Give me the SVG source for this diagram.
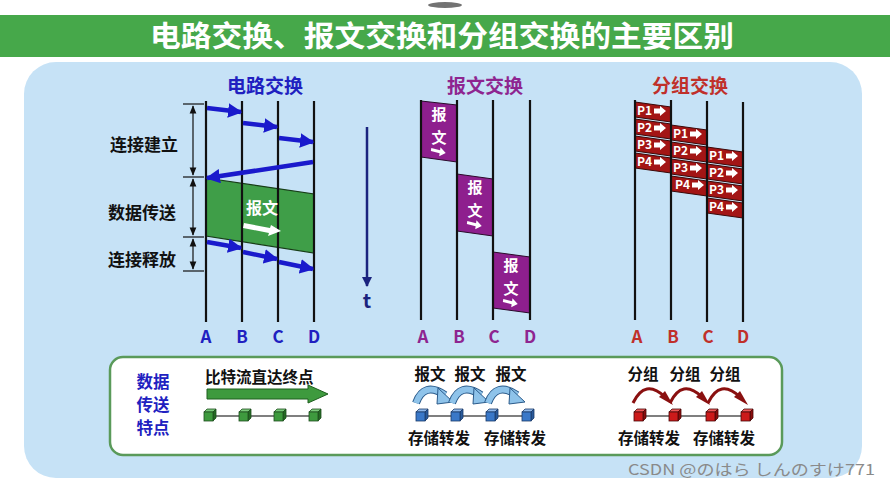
<svg xmlns="http://www.w3.org/2000/svg" xmlns:xlink="http://www.w3.org/1999/xlink" width="890" height="488" viewBox="0 0 890 488">
<style>
text{font-family:"Noto Sans CJK SC","Liberation Sans",sans-serif;font-weight:bold}
.title{fill:#fff;font-size:29px}
.lane{stroke:#111;stroke-width:2.2}
.blue{fill:#2020c0}
.purple{fill:#8e2590}
.red{fill:#c0302a}
.lbl{font-size:17px;text-anchor:middle}
.side{font-size:17px;fill:#111;text-anchor:middle}
.barr{stroke:#1a1acc;stroke-width:4.5;fill:none}
.tick{stroke:#111;stroke-width:1.2}
.msg{fill:#8e1f8e;stroke:#2a0a2a;stroke-width:1}
.pkt{fill:#a31515;stroke:#3a0808;stroke-width:1}
.ptxt{fill:#fff;font-size:12px;font-family:"Liberation Sans",sans-serif}
.wtxt{fill:#fff;font-size:16px;text-anchor:middle}
.vtxt{fill:#fff;font-size:15px;text-anchor:middle}
.btxt{fill:#111;font-size:15.5px}
.conn{stroke:#555;stroke-width:1.5}
</style>
<defs>
<marker id="bh" viewBox="0 0 10 10" refX="9" refY="5" markerWidth="3.2" markerHeight="3.2" orient="auto"><path d="M0,0 L10,5 L0,10 z" fill="#1a1acc"/></marker>
<marker id="kh" viewBox="0 0 10 10" refX="9" refY="5" markerWidth="7" markerHeight="7" orient="auto-start-reverse"><path d="M0,1 L10,5 L0,9 z" fill="#111"/></marker>
<marker id="th" viewBox="0 0 10 10" refX="9" refY="5" markerWidth="4" markerHeight="4" orient="auto"><path d="M0,0 L10,5 L0,10 z" fill="#1a237e"/></marker>
<g id="gcube"><polygon points="0,3 3,0 12,0 9,3" fill="#7ccc7c" stroke="#1e4e1e" stroke-width="0.8"/><polygon points="9,3 12,0 12,9 9,12" fill="#256a25" stroke="#1e4e1e" stroke-width="0.8"/><rect x="0" y="3" width="9" height="9" fill="#3e9a3e" stroke="#1e4e1e" stroke-width="0.8"/></g>
<g id="bcube"><polygon points="0,3 3,0 12,0 9,3" fill="#8fb8ea" stroke="#1a3a6a" stroke-width="0.8"/><polygon points="9,3 12,0 12,9 9,12" fill="#2a5a9a" stroke="#1a3a6a" stroke-width="0.8"/><rect x="0" y="3" width="9" height="9" fill="#3a78c8" stroke="#1a3a6a" stroke-width="0.8"/></g>
<g id="rcube"><polygon points="0,3 3,0 12,0 9,3" fill="#ee5a5a" stroke="#4a0808" stroke-width="0.8"/><polygon points="9,3 12,0 12,9 9,12" fill="#8a0c0c" stroke="#4a0808" stroke-width="0.8"/><rect x="0" y="3" width="9" height="9" fill="#cc1a1a" stroke="#4a0808" stroke-width="0.8"/></g>
<polygon id="warr" points="0,-2 9,-1 9,-4 15,1 9,5 9,2 0,1" fill="#fff"/>
<polygon id="parr" points="0,-2.5 6,-2.5 6,-5 12,0 6,5 6,2.5 0,2.5" fill="#fff"/>
<g id="barc"><path d="M1,16 Q9,-6 30,8" fill="none" stroke="#2a5a8a" stroke-width="8"/><path d="M1,16 Q9,-6 30,8" fill="none" stroke="#8ec3ea" stroke-width="6"/><polygon points="23,1 38,15 22,17" fill="#8ec3ea" stroke="#2a5a8a" stroke-width="1"/></g>
<g id="rarc"><path d="M0,15 Q12,-10 32,9" fill="none" stroke="#8a1010" stroke-width="3"/><polygon points="26,7 40,15 32,1" fill="#8a1010" transform="translate(0,2)"/></g>
</defs>

<rect x="0" y="0" width="890" height="488" fill="#fff"/>
<ellipse cx="445" cy="5" rx="17" ry="3" fill="#444" opacity="0.75"/>
<rect x="0" y="15" width="890" height="42" fill="#46a84a"/>
<text class="title" x="442" y="47" text-anchor="middle" textLength="584" lengthAdjust="spacingAndGlyphs">电路交换、报文交换和分组交换的主要区别</text>

<rect x="24" y="62" width="838" height="416" rx="32" fill="#c6e2f6"/>

<g id="circuit">
<text class="blue" x="265" y="93" font-size="19" text-anchor="middle">电路交换</text>
<line class="tick" x1="183" y1="104" x2="204" y2="104"/><line class="tick" x1="183" y1="177" x2="204" y2="177"/><line class="tick" x1="183" y1="237" x2="204" y2="237"/><line class="tick" x1="183" y1="271" x2="204" y2="271"/>
<line class="tick" x1="193" y1="106" x2="193" y2="175" marker-start="url(#kh)" marker-end="url(#kh)"/>
<line class="tick" x1="193" y1="179" x2="193" y2="235" marker-start="url(#kh)" marker-end="url(#kh)"/>
<line class="tick" x1="193" y1="239" x2="193" y2="269" marker-start="url(#kh)" marker-end="url(#kh)"/>
<text class="side" x="144" y="151">连接建立</text>
<text class="side" x="142" y="219">数据传送</text>
<text class="side" x="142" y="266">连接释放</text>
<polygon points="206,178 314,194 314,253 206,236" fill="#3f9e48" stroke="#173d17" stroke-width="1.2"/>
<line class="lane" x1="206" y1="101" x2="206" y2="322"/><line class="lane" x1="242" y1="101" x2="242" y2="322"/><line class="lane" x1="278" y1="101" x2="278" y2="322"/><line class="lane" x1="314" y1="101" x2="314" y2="322"/>
<text class="wtxt" x="262" y="214" font-size="17">报文</text>
<polygon points="244,223 270,228 271,225 281,231 268,236 269,233 243,228" fill="#fff"/>
<text class="blue lbl" x="206" y="343">A</text><text class="blue lbl" x="242" y="343">B</text><text class="blue lbl" x="278" y="343">C</text><text class="blue lbl" x="314" y="343">D</text>
</g>

<g id="connectors">
<line class="barr" x1="207" y1="108" x2="241" y2="112" marker-end="url(#bh)"/>
<line class="barr" x1="243" y1="123" x2="277" y2="127" marker-end="url(#bh)"/>
<line class="barr" x1="279" y1="138" x2="313" y2="142" marker-end="url(#bh)"/>
<line class="barr" x1="313" y1="162" x2="207" y2="178" marker-end="url(#bh)"/>
<line class="barr" x1="207" y1="242" x2="241" y2="248" marker-end="url(#bh)"/>
<line class="barr" x1="243" y1="252" x2="277" y2="259" marker-end="url(#bh)"/>
<line class="barr" x1="279" y1="262" x2="313" y2="269" marker-end="url(#bh)"/>
<line x1="367" y1="127" x2="367" y2="286" stroke="#1a237e" stroke-width="2.5" marker-end="url(#th)"/>
</g>
<text x="367" y="308" font-size="20" fill="#1a237e" text-anchor="middle" font-family="Liberation Sans,sans-serif">t</text>

<g id="message">
<text class="purple" x="485" y="93" font-size="19" text-anchor="middle">报文交换</text>
<polygon class="msg" points="421,101 457,105 457,162 421,157"/>
<polygon class="msg" points="457,174 493,179 493,236 457,231"/>
<polygon class="msg" points="493,252 530,257 530,313 493,308"/>
<line class="lane" x1="421" y1="100" x2="421" y2="320"/><line class="lane" x1="457" y1="100" x2="457" y2="320"/><line class="lane" x1="493" y1="100" x2="493" y2="320"/><line class="lane" x1="530" y1="100" x2="530" y2="320"/>
<g class="vtxt"><text x="439" y="120">报</text><text x="439" y="143">文</text><text x="475" y="193">报</text><text x="475" y="216">文</text><text x="511" y="271">报</text><text x="511" y="294">文</text></g>
<use xlink:href="#warr" transform="translate(431,150) rotate(8)"/>
<use xlink:href="#warr" transform="translate(467,223) rotate(8)"/>
<use xlink:href="#warr" transform="translate(503,301) rotate(8)"/>
<text class="purple lbl" x="423" y="343">A</text><text class="purple lbl" x="459" y="343">B</text><text class="purple lbl" x="494" y="343">C</text><text class="purple lbl" x="530" y="343">D</text>
</g>

<g id="packet">
<text class="red" x="690" y="93" font-size="19" text-anchor="middle">分组交换</text>
<g id="pcol1">
<polygon class="pkt" points="635,102 671,107 671,122 635,117"/>
<polygon class="pkt" points="635,119 671,124 671,139 635,134"/>
<polygon class="pkt" points="635,136 671,141 671,156 635,151"/>
<polygon class="pkt" points="635,153 671,158 671,173 635,168"/>
</g>
<g id="pcol2">
<polygon class="pkt" points="671,125 707,130 707,145 671,140"/>
<polygon class="pkt" points="671,142 707,147 707,162 671,157"/>
<polygon class="pkt" points="671,159 707,164 707,179 671,174"/>
<polygon class="pkt" points="671,176 707,181 707,196 671,191"/>
</g>
<g id="pcol3">
<polygon class="pkt" points="707,147 743,152 743,167 707,162"/>
<polygon class="pkt" points="707,164 743,169 743,184 707,179"/>
<polygon class="pkt" points="707,181 743,186 743,201 707,196"/>
<polygon class="pkt" points="707,198 743,203 743,218 707,213"/>
</g>
<line class="lane" x1="635" y1="100" x2="635" y2="320"/><line class="lane" x1="671" y1="100" x2="671" y2="320"/><line class="lane" x1="707" y1="101" x2="707" y2="322"/><line class="lane" x1="743" y1="102" x2="743" y2="322"/>
<g class="ptxt">
<text x="637" y="115">P1</text><text x="637" y="132">P2</text><text x="637" y="149">P3</text><text x="637" y="166">P4</text>
<text x="673" y="138">P1</text><text x="673" y="155">P2</text><text x="673" y="172">P3</text><text x="675" y="189">P4</text>
<text x="709" y="160">P1</text><text x="709" y="177">P2</text><text x="709" y="194">P3</text><text x="709" y="211">P4</text>
</g>
<g>
<use xlink:href="#parr" x="654" y="111"/><use xlink:href="#parr" x="654" y="128"/><use xlink:href="#parr" x="654" y="145"/><use xlink:href="#parr" x="654" y="162"/>
<use xlink:href="#parr" x="690" y="134"/><use xlink:href="#parr" x="690" y="151"/><use xlink:href="#parr" x="690" y="168"/><use xlink:href="#parr" x="692" y="185"/>
<use xlink:href="#parr" x="726" y="156"/><use xlink:href="#parr" x="726" y="173"/><use xlink:href="#parr" x="726" y="190"/><use xlink:href="#parr" x="726" y="207"/>
</g>
<text class="red lbl" x="637" y="343">A</text><text class="red lbl" x="673" y="343">B</text><text class="red lbl" x="708" y="343">C</text><text class="red lbl" x="743" y="343">D</text>
</g>

<g id="features">
<rect x="110" y="357" width="672" height="98" rx="13" fill="#fff" stroke="#5a9a5a" stroke-width="2.5"/>
<g class="blue" font-size="16.5" text-anchor="middle"><text x="153" y="388">数据</text><text x="153" y="411">传送</text><text x="153" y="434">特点</text></g>
<text class="btxt" x="205" y="383">比特流直达终点</text>
<polygon points="207,389 308,389 308,385 328,394 308,403 308,399 207,399" fill="#3e9a3e" stroke="#1e5e1e" stroke-width="1"/>
<line class="conn" x1="212" y1="416" x2="316" y2="416"/>
<use xlink:href="#gcube" x="204" y="409"/><use xlink:href="#gcube" x="239" y="409"/><use xlink:href="#gcube" x="274" y="409"/><use xlink:href="#gcube" x="309" y="409"/>

<g class="btxt" text-anchor="middle"><text x="430" y="380">报文</text><text x="470" y="380">报文</text><text x="511" y="380">报文</text></g>
<use xlink:href="#barc" x="415" y="387"/><use xlink:href="#barc" x="451" y="387"/><use xlink:href="#barc" x="487" y="387"/>
<line class="conn" x1="422" y1="416" x2="528" y2="416"/>
<use xlink:href="#bcube" x="416" y="409"/><use xlink:href="#bcube" x="451" y="409"/><use xlink:href="#bcube" x="486" y="409"/><use xlink:href="#bcube" x="522" y="409"/>
<text class="btxt" x="408" y="444">存储转发</text><text class="btxt" x="484" y="444">存储转发</text>

<g class="btxt" text-anchor="middle"><text x="643" y="380">分组</text><text x="685" y="380">分组</text><text x="725" y="380">分组</text></g>
<use xlink:href="#rarc" x="633" y="388"/><use xlink:href="#rarc" x="670" y="388"/><use xlink:href="#rarc" x="708" y="388"/>
<line class="conn" x1="640" y1="416" x2="748" y2="416"/>
<use xlink:href="#rcube" x="634" y="409"/><use xlink:href="#rcube" x="669" y="409"/><use xlink:href="#rcube" x="706" y="409"/><use xlink:href="#rcube" x="741" y="409"/>
<text class="btxt" x="618" y="444">存储转发</text><text class="btxt" x="693" y="444">存储转发</text>
</g>

<text x="628" y="475" font-size="15" fill="#8a8a8a" style="font-weight:normal;font-family:'Noto Sans CJK JP','Liberation Sans',sans-serif" textLength="247" lengthAdjust="spacingAndGlyphs">CSDN @のはら しんのすけ771</text>
</svg>
